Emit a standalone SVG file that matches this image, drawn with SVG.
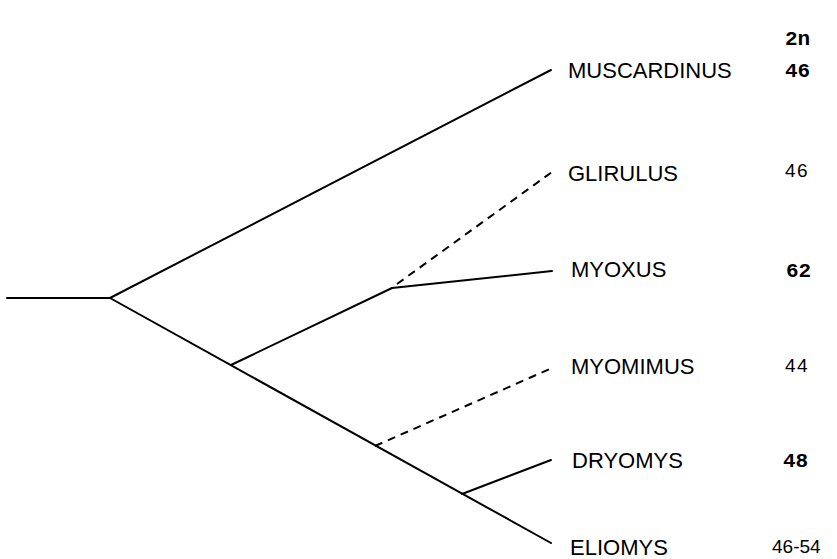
<svg xmlns="http://www.w3.org/2000/svg" width="837" height="559" viewBox="0 0 837 559">
<style>
.br{stroke:#000;stroke-width:2;fill:none;stroke-linecap:round}
.da{stroke-dasharray:8 6;stroke-linecap:butt}
.lb{font-family:"Liberation Sans",Arial,sans-serif;font-size:22px;fill:#000}
.n{font-family:"Liberation Sans",Arial,sans-serif;font-size:19px;fill:#000;letter-spacing:1.5px}
.nb{font-family:"Liberation Mono","Courier New",monospace;font-size:21px;font-weight:bold;fill:#000}
</style>
<rect width="837" height="559" fill="#fff"/>
<g id="connectors">
<line class="br" x1="7" y1="298" x2="110" y2="298"/>
<line class="br" x1="110" y1="298" x2="551" y2="70"/>
<line class="br" x1="110" y1="298" x2="551" y2="543"/>
<line class="br" x1="231" y1="365" x2="392" y2="288"/>
<line class="br" x1="392" y1="288" x2="552" y2="271"/>
<line class="br da" x1="397" y1="284" x2="552" y2="172"/>
<line class="br da" x1="375" y1="446" x2="552" y2="368"/>
<line class="br" x1="462" y1="494" x2="551" y2="460"/>
</g>
<g id="header"><text class="nb" x="785" y="45">2n</text></g>
<g id="muscardinus"><text class="lb" x="568" y="78">MUSCARDINUS</text><text class="nb" x="785" y="77">46</text></g>
<g id="glirulus"><text class="lb" x="568" y="181">GLIRULUS</text><text class="n" x="785" y="177">46</text></g>
<g id="myoxus"><text class="lb" x="571" y="277">MYOXUS</text><text class="nb" x="786" y="277">62</text></g>
<g id="myomimus"><text class="lb" x="571" y="374">MYOMIMUS</text><text class="n" x="785" y="372">44</text></g>
<g id="dryomys"><text class="lb" x="572" y="468">DRYOMYS</text><text class="nb" x="783" y="467">48</text></g>
<g id="eliomys"><text class="lb" x="570" y="555">ELIOMYS</text><text class="n" x="772" y="553" style="letter-spacing:0">46-54</text></g>
</svg>
